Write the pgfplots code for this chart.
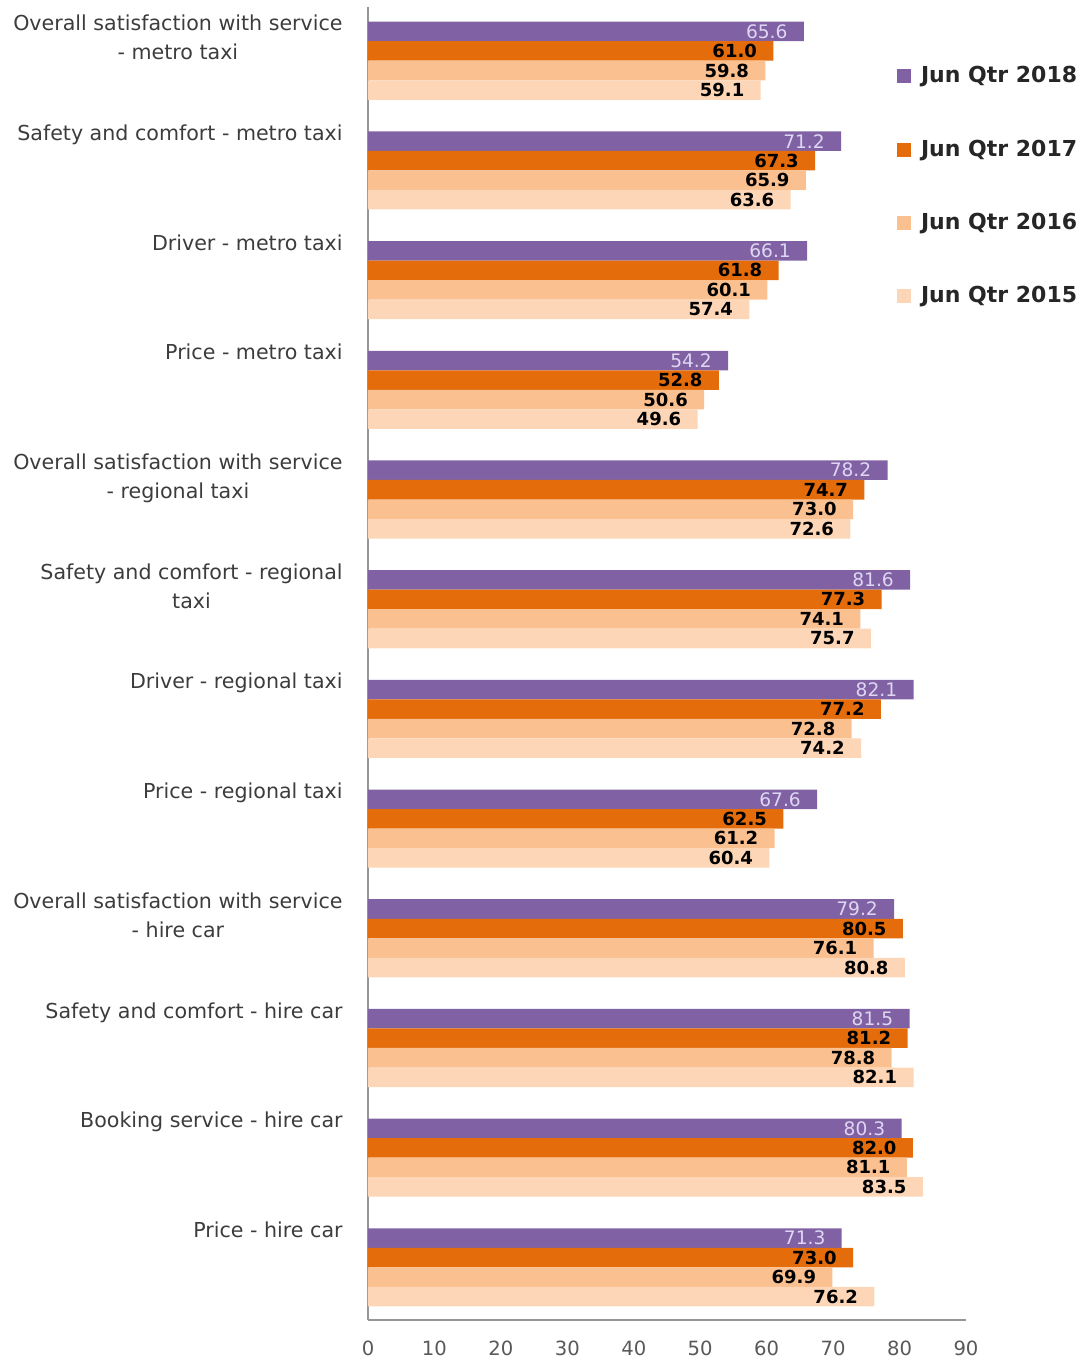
\documentclass[border=0pt]{standalone}
\usepackage{fontspec}
\setmainfont{DejaVu Sans}
\usepackage{pgfplots}
\pgfplotsset{compat=1.18}
\definecolor{c18}{RGB}{128,98,164}
\definecolor{c17}{RGB}{228,108,10}
\definecolor{c16}{RGB}{250,192,144}
\definecolor{c15}{RGB}{252,214,182}
\definecolor{lab}{RGB}{60,60,60}
\definecolor{leg}{RGB}{38,38,38}
\definecolor{lav}{RGB}{222,214,242}
\definecolor{axl}{RGB}{150,150,150}
\begin{document}
\begin{tikzpicture}
\path[use as bounding box] (-184pt,-21.5pt) rectangle (360pt,660pt);
\begin{axis}[
  at={(0,0)}, anchor=south west, scale only axis,
  width=299pt, height=656.5pt,
  xbar, bar width=0.178,
  xmin=0, xmax=90, ymin=-0.49, ymax=11.48, y dir=reverse,
  axis x line*=bottom, axis y line*=left,
  axis line style={draw=axl, line width=1pt},
  major tick length=0pt,
  xtick={0,10,...,90},
  ytick={0,...,11},
  yticklabels={
    {Overall satisfaction with service\\- metro taxi},
    {Safety and comfort - metro taxi},
    {Driver - metro taxi},
    {Price - metro taxi},
    {Overall satisfaction with service\\- regional taxi},
    {Safety and comfort - regional\\taxi},
    {Driver - regional taxi},
    {Price - regional taxi},
    {Overall satisfaction with service\\- hire car},
    {Safety and comfort - hire car},
    {Booking service - hire car},
    {Price - hire car}},
  yticklabel style={anchor=north east, align=center, inner sep=0pt,
    font=\fontsize{10.3}{14.5}\selectfont, text=lab, xshift=-12.5pt, yshift=23pt},
  xticklabel style={font=\fontsize{9.8}{11}\selectfont, text=lab!85, yshift=-7pt},
  /pgf/number format/assume math mode=true,
  nodes near coords,
  nodes near coords={\pgfmathprintnumber[fixed,fixed zerofill,precision=1,assume math mode=true]{\pgfplotspointmeta}},
  every node near coord/.append style={anchor=east, inner sep=0pt, xshift=-8pt,
    font=\bfseries\fontsize{9}{10}\selectfont, text=black},
  legend style={at={(rel axis cs:0.884,0.958)}, anchor=north west, draw=none, fill=none,
    font=\bfseries\fontsize{11}{13}\selectfont, text=leg, row sep=23pt, inner sep=0pt},
  legend cell align=left,
  legend image code/.code={\fill[#1,draw=none] (0pt,-3.5pt) rectangle (7pt,3.5pt);\path (10pt,0pt);},
]
\addplot[fill=c18, draw=none, bar shift=-0.267,
  every node near coord/.append style={text=lav, font=\fontsize{9.3}{10}\selectfont}]
  coordinates {(65.6,0) (71.2,1) (66.1,2) (54.2,3) (78.2,4) (81.6,5) (82.1,6) (67.6,7) (79.2,8) (81.5,9) (80.3,10) (71.3,11)};
\addplot[fill=c17, draw=none, bar shift=-0.089]
  coordinates {(61.0,0) (67.3,1) (61.8,2) (52.8,3) (74.7,4) (77.3,5) (77.2,6) (62.5,7) (80.5,8) (81.2,9) (82.0,10) (73.0,11)};
\addplot[fill=c16, draw=none, bar shift=0.089]
  coordinates {(59.8,0) (65.9,1) (60.1,2) (50.6,3) (73.0,4) (74.1,5) (72.8,6) (61.2,7) (76.1,8) (78.8,9) (81.1,10) (69.9,11)};
\addplot[fill=c15, draw=none, bar shift=0.267]
  coordinates {(59.1,0) (63.6,1) (57.4,2) (49.6,3) (72.6,4) (75.7,5) (74.2,6) (60.4,7) (80.8,8) (82.1,9) (83.5,10) (76.2,11)};
\legend{Jun Qtr 2018, Jun Qtr 2017, Jun Qtr 2016, Jun Qtr 2015}
\end{axis}
\end{tikzpicture}
\end{document}
